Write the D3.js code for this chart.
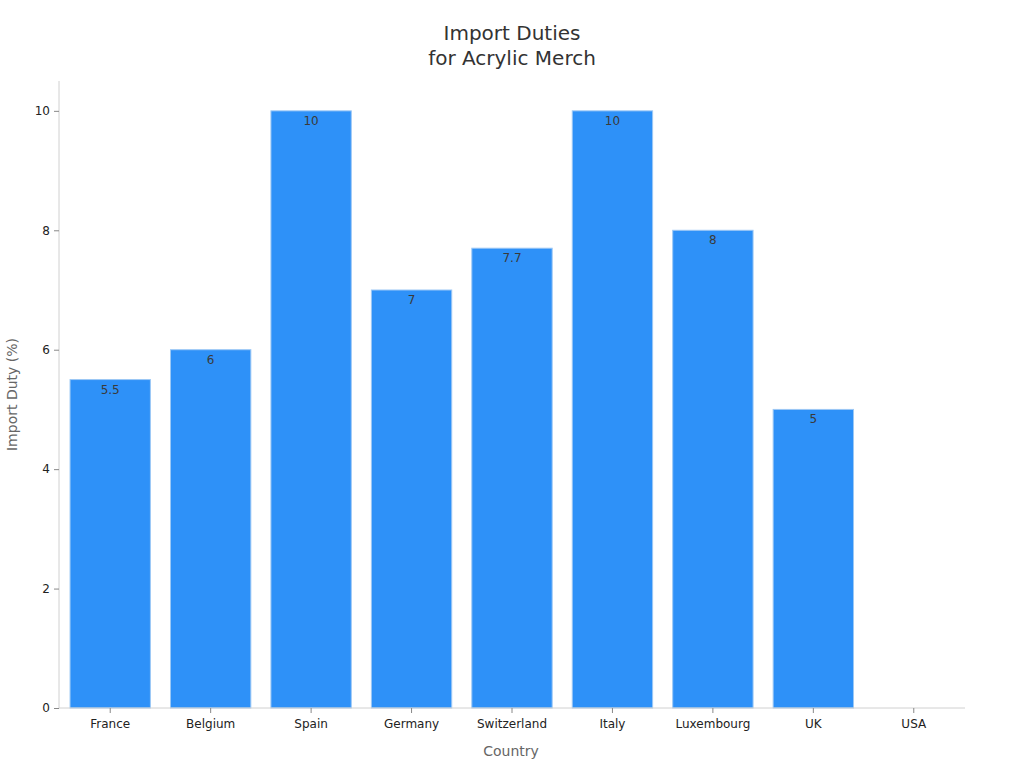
<html lang="en">
    <head>
        <meta charset="utf-8">
        <title>Import Duties</title>
        <script type="text/javascript" src="https://d3js.org/d3.v7.min.js"></script>
        <style>
            body { margin: 0; background: #fff; }
            text { font-family: "DejaVu Sans", sans-serif; }
        </style>
    </head>
    <body>
        <div id="chart"></div>
        <script type="text/javascript">
            const countries = ["France", "Belgium", "Spain", "Germany", "Switzerland", "Italy", "Luxembourg", "UK", "USA"];
            const duties = [5.5, 6, 10, 7, 7.7, 10, 8, 5, 0];
            const yTicks = [0, 2, 4, 6, 8, 10];

            const width = 1024, height = 768;
            const margin = {top: 81, right: 61, bottom: 60, left: 59};

            const svg = d3.select("#chart").append("svg").attr("width", width).attr("height", height);

            const x = d3.scaleBand().domain(countries)
                .range([margin.left + 1, width - margin.right + 1])
                .paddingInner(0.2).paddingOuter(0.1);
            const y = d3.scaleLinear().domain([0, 10.5]).range([height - margin.bottom, margin.top]);

            // タイトル
            const title = svg.append("text").attr("x", width / 2).attr("y", 40)
                .attr("text-anchor", "middle").attr("font-size", "20px").attr("fill", "#333");
            title.append("tspan").attr("x", width / 2).text("Import Duties");
            title.append("tspan").attr("x", width / 2).attr("dy", 25).text("for Acrylic Merch");

            // 棒
            svg.append("g").selectAll("rect").data(countries).join("rect")
                .attr("x", d => x(d))
                .attr("width", x.bandwidth())
                .attr("y", (d, i) => y(duties[i]))
                .attr("height", (d, i) => y(0) - y(duties[i]))
                .attr("fill", "#2e91f8")
                .attr("stroke", "#9cc8f5")
                .attr("stroke-width", 1)
                .style("display", (d, i) => duties[i] > 0 ? null : "none");

            // 値ラベル
            svg.append("g").selectAll("text").data(countries).join("text")
                .attr("x", d => x(d) + x.bandwidth() / 2)
                .attr("y", (d, i) => y(duties[i]) + 14)
                .attr("text-anchor", "middle").attr("font-size", "12px").attr("fill", "#3a3a3a")
                .text((d, i) => duties[i] > 0 ? duties[i] : "");

            // 軸
            const yAxis = svg.append("g").attr("transform", `translate(${margin.left},0)`)
                .call(d3.axisLeft(y).tickValues(yTicks).tickSize(5).tickPadding(4));
            const xAxis = svg.append("g").attr("transform", `translate(0,${height - margin.bottom})`)
                .call(d3.axisBottom(x).tickSize(5).tickPadding(6).tickSizeOuter(0));
            yAxis.select(".domain").attr("d", `M0,${y(0)}V${margin.top}`);
            xAxis.select(".domain").attr("d", `M${margin.left},0H${width - margin.right + 2}`);
            [xAxis, yAxis].forEach(a => {
                a.select(".domain").attr("stroke", "#d0d0d0");
                a.selectAll(".tick line").attr("stroke", "#888");
                a.selectAll(".tick text").attr("font-size", "12px").attr("fill", "#222")
                    .attr("font-family", "DejaVu Sans, sans-serif");
            });

            // 軸タイトル
            svg.append("text").attr("x", (margin.left + width - margin.right) / 2).attr("y", 756)
                .attr("text-anchor", "middle").attr("font-size", "14px").attr("fill", "#666").text("Country");
            svg.append("text").attr("transform", `translate(17,${(y(0) + margin.top) / 2}) rotate(-90)`)
                .attr("text-anchor", "middle").attr("font-size", "14px").attr("fill", "#666").text("Import Duty (%)");
        </script>
    </body>
</html>
